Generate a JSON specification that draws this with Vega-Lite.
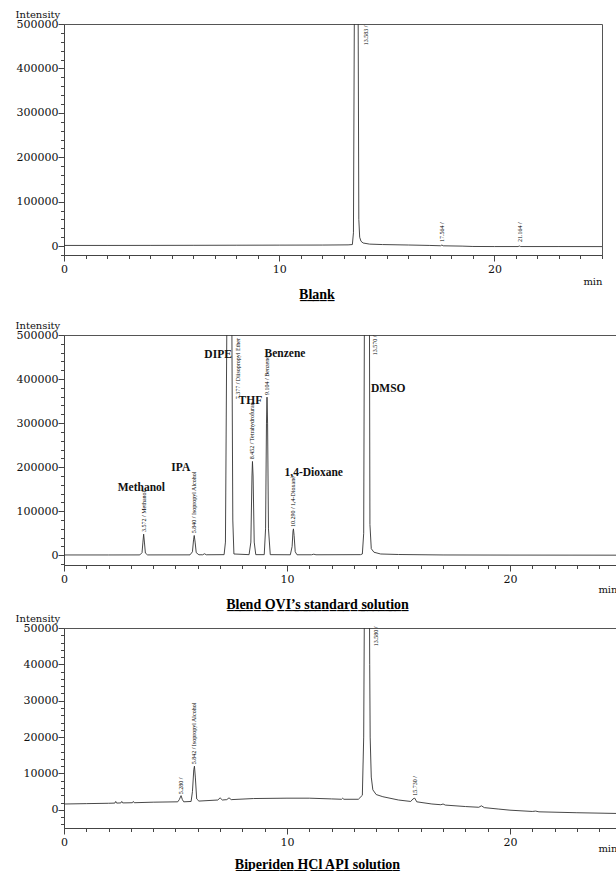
{
  "$schema": "https://vega.github.io/schema/vega-lite/v6.json",
  "background": "white",
  "padding": {"left": 14, "top": 8, "right": 0, "bottom": 0},
  "spacing": -1,
  "config": {
    "font": "DejaVu Serif",
    "view": {"stroke": "#555", "strokeWidth": 1},
    "axis": {"domainColor": "#444", "tickColor": "#444", "labelColor": "#111", "labelFont": "DejaVu Serif", "labelFontSize": 11, "titleFont": "DejaVu Serif", "titleFontWeight": "normal", "titleFontSize": 10, "titleColor": "#111", "grid": false, "labelOverlap": false, "labelFlush": false},
    "title": {"font": "Liberation Serif", "fontSize": 14, "fontWeight": "bold", "color": "#000", "anchor": "middle", "orient": "bottom"},
    "text": {"font": "Liberation Serif"}
  },
  "datasets": {
    "blank": [{"t":0,"v":1500},{"t":2,"v":1500},{"t":4,"v":1600},{"t":6,"v":1800},{"t":8,"v":2000},{"t":10,"v":2200},{"t":12,"v":2400},{"t":13.2,"v":2800},{"t":13.4,"v":3500},{"t":13.45,"v":30000},{"t":13.49,"v":500000},{"t":13.54,"v":700000},{"t":13.62,"v":700000},{"t":13.67,"v":500000},{"t":13.7,"v":60000},{"t":13.74,"v":20000},{"t":13.8,"v":11000},{"t":13.9,"v":7000},{"t":14.2,"v":4500},{"t":14.8,"v":3500},{"t":16,"v":2500},{"t":17,"v":1500},{"t":17.5,"v":800},{"t":17.56,"v":2500},{"t":17.62,"v":700},{"t":18.5,"v":0},{"t":19,"v":-800},{"t":20,"v":-1000},{"t":21.1,"v":-1000},{"t":21.16,"v":300},{"t":21.22,"v":-1000},{"t":23,"v":-1000},{"t":25,"v":-1100}],
    "blank_lab": [{"t":14.03,"v":452000,"label":"13.583 /"},{"t":17.57,"v":9000,"label":"17.564 /"},{"t":21.17,"v":9000,"label":"21.164 /"}],
    "std": [{"t":0,"v":800},{"t":2,"v":800},{"t":3.4,"v":900},{"t":3.5,"v":6000},{"t":3.54,"v":30000},{"t":3.572,"v":48000},{"t":3.61,"v":28000},{"t":3.65,"v":5000},{"t":3.75,"v":900},{"t":5.65,"v":1000},{"t":5.76,"v":8000},{"t":5.81,"v":35000},{"t":5.84,"v":45000},{"t":5.88,"v":30000},{"t":5.93,"v":6000},{"t":6.05,"v":1200},{"t":6.22,"v":1200},{"t":6.3,"v":3500},{"t":6.38,"v":1200},{"t":7.18,"v":1500},{"t":7.24,"v":30000},{"t":7.3,"v":500000},{"t":7.35,"v":800000},{"t":7.47,"v":800000},{"t":7.53,"v":500000},{"t":7.57,"v":80000},{"t":7.62,"v":3000},{"t":8.3,"v":1500},{"t":8.38,"v":30000},{"t":8.43,"v":180000},{"t":8.452,"v":213000},{"t":8.48,"v":180000},{"t":8.53,"v":30000},{"t":8.6,"v":1500},{"t":8.98,"v":1500},{"t":9.04,"v":60000},{"t":9.08,"v":300000},{"t":9.104,"v":359000},{"t":9.13,"v":300000},{"t":9.17,"v":60000},{"t":9.25,"v":1500},{"t":10.15,"v":1200},{"t":10.23,"v":20000},{"t":10.27,"v":55000},{"t":10.29,"v":60000},{"t":10.32,"v":45000},{"t":10.37,"v":8000},{"t":10.45,"v":1200},{"t":11.1,"v":1200},{"t":11.2,"v":2500},{"t":11.3,"v":1200},{"t":13.3,"v":1500},{"t":13.38,"v":3000},{"t":13.44,"v":50000},{"t":13.47,"v":500000},{"t":13.52,"v":800000},{"t":13.65,"v":800000},{"t":13.7,"v":500000},{"t":13.72,"v":70000},{"t":13.78,"v":15000},{"t":13.9,"v":7000},{"t":14.2,"v":3000},{"t":15,"v":1800},{"t":17,"v":800},{"t":20,"v":500},{"t":24.8,"v":300}],
    "std_lab": [{"t":3.572,"v":53000,"label":"3.572 / Methanol"},{"t":5.84,"v":50000,"label":"5.840 / Isopropyl Alcohol"},{"t":7.79,"v":354000,"label":"7.377 / Diisopropyl Ether"},{"t":8.452,"v":218000,"label":"8.452 / Tetrahydrofuran"},{"t":9.104,"v":364000,"label":"9.104 / Benzene"},{"t":10.29,"v":64000,"label":"10.290 / 1,4-Dioxane"},{"t":13.95,"v":454000,"label":"13.570 /"}],
    "std_names": [{"t":3.47,"v":153000,"name":"Methanol"},{"t":5.24,"v":198500,"name":"IPA"},{"t":6.91,"v":454000,"name":"DIPE"},{"t":8.36,"v":350000,"name":"THF"},{"t":9.91,"v":456000,"name":"Benzene"},{"t":11.2,"v":187000,"name":"1,4-Dioxane"},{"t":14.54,"v":378000,"name":"DMSO"}],
    "api": [{"t":0,"v":1600},{"t":1,"v":1700},{"t":2,"v":1800},{"t":2.28,"v":1850},{"t":2.32,"v":2300},{"t":2.36,"v":1850},{"t":2.55,"v":1900},{"t":2.59,"v":2300},{"t":2.63,"v":1900},{"t":3.07,"v":1950},{"t":3.11,"v":2300},{"t":3.15,"v":1950},{"t":4,"v":2100},{"t":5.1,"v":2200},{"t":5.17,"v":2800},{"t":5.25,"v":3900},{"t":5.31,"v":2800},{"t":5.37,"v":2200},{"t":5.7,"v":2300},{"t":5.76,"v":5000},{"t":5.82,"v":11000},{"t":5.85,"v":12000},{"t":5.89,"v":9000},{"t":5.95,"v":3000},{"t":6.05,"v":2400},{"t":6.9,"v":2700},{"t":7.0,"v":3300},{"t":7.1,"v":2700},{"t":7.3,"v":2800},{"t":7.4,"v":3300},{"t":7.5,"v":2800},{"t":8.5,"v":3100},{"t":10,"v":3200},{"t":11,"v":3200},{"t":12,"v":3000},{"t":12.45,"v":2900},{"t":12.5,"v":3200},{"t":12.55,"v":2900},{"t":13.2,"v":2900},{"t":13.38,"v":4000},{"t":13.44,"v":20000},{"t":13.47,"v":55000},{"t":13.7,"v":55000},{"t":13.71,"v":40000},{"t":13.73,"v":20000},{"t":13.78,"v":9000},{"t":13.85,"v":5500},{"t":14.0,"v":4200},{"t":14.3,"v":3600},{"t":15.0,"v":2700},{"t":15.55,"v":2300},{"t":15.65,"v":3000},{"t":15.73,"v":3200},{"t":15.82,"v":2200},{"t":16.5,"v":1600},{"t":16.9,"v":1400},{"t":17.0,"v":1600},{"t":17.1,"v":1300},{"t":18,"v":900},{"t":18.6,"v":700},{"t":18.72,"v":1100},{"t":18.85,"v":600},{"t":19.5,"v":200},{"t":20,"v":-100},{"t":21,"v":-450},{"t":21.15,"v":-350},{"t":21.3,"v":-550},{"t":23,"v":-800},{"t":24.8,"v":-1000}],
    "api_lab": [{"t":5.25,"v":4300,"label":"5.280 /"},{"t":5.85,"v":12500,"label":"5.842 / Isopropyl Alcohol"},{"t":13.98,"v":45000,"label":"13.580 /"},{"t":15.73,"v":3900,"label":"15.730 /"}]
  },
  "vconcat": [
    {
      "width": 538, "height": 231,
      "title": {"text": "B\u0332l\u0332a\u0332n\u0332k\u0332", "subtitle": " ", "subtitleFontSize": 14, "subtitlePadding": 3, "dx": -16, "offset": 2},
      "encoding": {
        "x": {"field": "t", "type": "quantitative", "scale": {"domain": [0, 25], "nice": false, "zero": false},
          "axis": {"values": [0,1,2,3,4,5,6,7,8,9,10,11,12,13,14,15,16,17,18,19,20,21,22,23,24,25], "labelExpr": "datum.value % 10 === 0 ? datum.label : ''", "tickSize": {"condition": {"test": "datum.value % 10 === 0", "value": 6}, "value": 3.5}, "labelPadding": 2, "title": "min", "titleAlign": "right", "titleX": 538, "titleY": 29, "titleBaseline": "alphabetic"}},
        "y": {"field": "v", "type": "quantitative", "scale": {"domain": [-20000, 500000], "nice": false, "zero": false},
          "axis": {"values": [-20000,0,20000,40000,60000,80000,100000,120000,140000,160000,180000,200000,220000,240000,260000,280000,300000,320000,340000,360000,380000,400000,420000,440000,460000,480000,500000], "format": "d", "labelExpr": "datum.value % 100000 === 0 ? datum.label : ''", "tickSize": {"condition": {"test": "datum.value % 100000 === 0", "value": 6}, "value": 3.5}, "labelPadding": 0, "title": "Intensity", "titleAngle": 0, "titleAlign": "left", "titleX": -49, "titleY": -7, "titleBaseline": "alphabetic"}}
      },
      "layer": [
        {"data": {"name": "blank"}, "mark": {"type": "line", "clip": true, "color": "#333", "strokeWidth": 0.9}},
        {"data": {"name": "blank_lab"}, "mark": {"type": "text", "angle": 270, "align": "left", "baseline": "middle", "fontSize": 6, "color": "#000"}, "encoding": {"text": {"field": "label"}}}
      ]
    },
    {
      "width": 553, "height": 230,
      "title": {"text": "B\u0332l\u0332e\u0332n\u0332d\u0332 \u0332O\u0332V\u0332I\u0332\u2019\u0332s\u0332 \u0332s\u0332t\u0332a\u0332n\u0332d\u0332a\u0332r\u0332d\u0332 \u0332s\u0332o\u0332l\u0332u\u0332t\u0332i\u0332o\u0332n\u0332", "dx": -23, "offset": 4},
      "encoding": {
        "x": {"field": "t", "type": "quantitative", "scale": {"domain": [0, 24.8], "nice": false, "zero": false},
          "axis": {"values": [0,1,2,3,4,5,6,7,8,9,10,11,12,13,14,15,16,17,18,19,20,21,22,23,24], "labelExpr": "datum.value % 10 === 0 ? datum.label : ''", "tickSize": {"condition": {"test": "datum.value % 10 === 0", "value": 6}, "value": 3.5}, "labelPadding": 2, "title": "min", "titleAlign": "right", "titleX": 553, "titleY": 27, "titleBaseline": "alphabetic"}},
        "y": {"field": "v", "type": "quantitative", "scale": {"domain": [-22000, 500000], "nice": false, "zero": false},
          "axis": {"values": [-20000,0,20000,40000,60000,80000,100000,120000,140000,160000,180000,200000,220000,240000,260000,280000,300000,320000,340000,360000,380000,400000,420000,440000,460000,480000,500000], "format": "d", "labelExpr": "datum.value % 100000 === 0 ? datum.label : ''", "tickSize": {"condition": {"test": "datum.value % 100000 === 0", "value": 6}, "value": 3.5}, "labelPadding": 0, "title": "Intensity", "titleAngle": 0, "titleAlign": "left", "titleX": -49, "titleY": -7, "titleBaseline": "alphabetic"}}
      },
      "layer": [
        {"data": {"name": "std"}, "mark": {"type": "line", "clip": true, "color": "#333", "strokeWidth": 0.9}},
        {"data": {"name": "std_lab"}, "mark": {"type": "text", "angle": 270, "align": "left", "baseline": "middle", "fontSize": 6, "color": "#000"}, "encoding": {"text": {"field": "label"}}},
        {"data": {"name": "std_names"}, "mark": {"type": "text", "align": "center", "baseline": "middle", "fontSize": 11.5, "fontWeight": "bold", "color": "#111"}, "encoding": {"text": {"field": "name"}}}
      ]
    },
    {
      "width": 553, "height": 200,
      "title": {"text": "B\u0332i\u0332p\u0332e\u0332r\u0332i\u0332d\u0332e\u0332n\u0332 \u0332H\u0332C\u0332l\u0332 \u0332A\u0332P\u0332I\u0332 \u0332s\u0332o\u0332l\u0332u\u0332t\u0332i\u0332o\u0332n\u0332", "dx": -23, "offset": 5},
      "encoding": {
        "x": {"field": "t", "type": "quantitative", "scale": {"domain": [0, 24.8], "nice": false, "zero": false},
          "axis": {"values": [0,1,2,3,4,5,6,7,8,9,10,11,12,13,14,15,16,17,18,19,20,21,22,23,24], "labelExpr": "datum.value % 10 === 0 ? datum.label : ''", "tickSize": {"condition": {"test": "datum.value % 10 === 0", "value": 6}, "value": 3.5}, "labelPadding": 2, "title": "min", "titleAlign": "right", "titleX": 553, "titleY": 23, "titleBaseline": "alphabetic"}},
        "y": {"field": "v", "type": "quantitative", "scale": {"domain": [-5000, 50000], "nice": false, "zero": false},
          "axis": {"values": [-4000,-2000,0,2000,4000,6000,8000,10000,12000,14000,16000,18000,20000,22000,24000,26000,28000,30000,32000,34000,36000,38000,40000,42000,44000,46000,48000,50000], "format": "d", "labelExpr": "datum.value % 10000 === 0 ? datum.label : ''", "tickSize": {"condition": {"test": "datum.value % 10000 === 0", "value": 6}, "value": 3.5}, "labelPadding": 0, "title": "Intensity", "titleAngle": 0, "titleAlign": "left", "titleX": -49, "titleY": -7, "titleBaseline": "alphabetic"}}
      },
      "layer": [
        {"data": {"name": "api"}, "mark": {"type": "line", "clip": true, "color": "#333", "strokeWidth": 0.9}},
        {"data": {"name": "api_lab"}, "mark": {"type": "text", "angle": 270, "align": "left", "baseline": "middle", "fontSize": 6, "color": "#000"}, "encoding": {"text": {"field": "label"}}}
      ]
    }
  ]
}
